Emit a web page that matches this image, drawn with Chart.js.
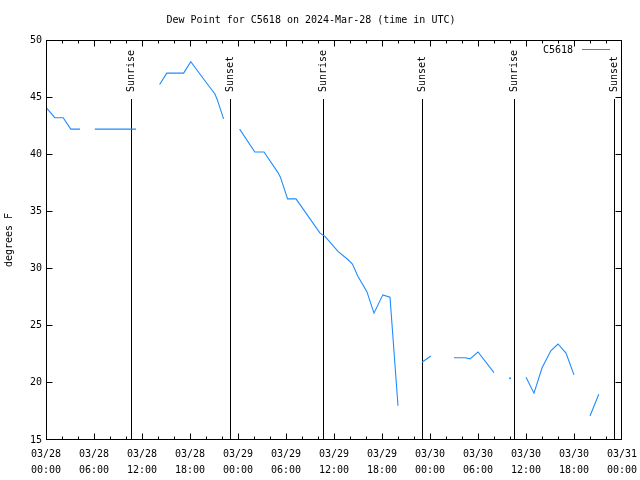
<!DOCTYPE html>
<html><head><meta charset="utf-8">
<script src="https://cdn.jsdelivr.net/npm/chart.js@4"></script>
<style>html,body{margin:0;padding:0;background:#fff}</style>
</head><body>
<canvas id="c" width="640" height="480"></canvas>
<script>
// ---- data (hours after 2024-03-28 00:00 UTC) ----
const hours = [0, 1.1, 2.15, 3.1, 4.25, 5, 6.1, 8, 10, 11.25, 12.5,
  14.2, 15.1, 17.2, 18.1, 20.0, 21.1, 21.4, 22.2, 23.5,
  24.2, 26.1, 27.25, 29.0, 29.3, 30.2, 31.25, 34.25, 34.9, 36.5, 37.8, 38.3, 39.0, 40.1, 41.0, 42.1, 43.0, 44.0, 45.5,
  47.0, 48.1, 49.5, 51.0, 52.4, 53.0, 54.0, 56.0, 57, 58.0, 59,
  60.0, 61.0, 62.0, 63.1, 64.0, 65.0, 66.0, 67, 68.0, 69.1];
const dewPoint = [44.1, 43.2, 43.2, 42.2, 42.2, null, 42.2, 42.2, 42.2, 42.2, null,
  46.1, 47.1, 47.1, 48.1, 46.3, 45.3, 44.8, 43.1, null,
  42.2, 40.2, 40.2, 38.4, 38.0, 36.1, 36.1, 33.1, 32.8, 31.5, 30.75, 30.4, 29.3, 28.0, 26.1, 27.7, 27.5, 18.0, null,
  21.8, 22.35, null, 22.2, 22.2, 22.1, 22.7, 20.9, null, 20.4, null,
  20.5, 19.1, 21.3, 22.8, 23.4, 22.6, 20.7, null, 17.1, 19.0];
const xTickLabels = [['03/28','00:00'],['03/28','06:00'],['03/28','12:00'],['03/28','18:00'],
  ['03/29','00:00'],['03/29','06:00'],['03/29','12:00'],['03/29','18:00'],
  ['03/30','00:00'],['03/30','06:00'],['03/30','12:00'],['03/30','18:00'],['03/31','00:00']];
const sunTimes = [10.7, 23.08, 34.67, 47.04, 58.55, 71.05];
const sunLabels = ['Sunrise','Sunset','Sunrise','Sunset','Sunrise','Sunset'];
const seriesName = 'C5618';
const titleText = 'Dew Point for C5618 on 2024-Mar-28 (time in UTC)';

const MONO = '"DejaVu Sans Mono", monospace';
const FONT = {family: MONO, size: 10, weight: 'normal'};
const LINE_COLOR = '#1e8cff';

const points = hours.map((h, i) => ({x: h, y: dewPoint[i]}));

const decor = {
  id: 'decor',
  beforeDatasetsDraw(chart) {
    const {ctx, chartArea: a, scales: {x}} = chart;
    ctx.save();
    ctx.strokeStyle = '#000'; ctx.lineWidth = 1;
    ctx.font = '10px ' + MONO; ctx.fillStyle = '#000';
    sunTimes.forEach((t, i) => {
      const px = Math.floor(x.getPixelForValue(t)) + 0.5;
      ctx.beginPath(); ctx.moveTo(px, a.top + 59); ctx.lineTo(px, a.bottom); ctx.stroke();
      ctx.save();
      ctx.translate(px, a.top + 52);
      ctx.rotate(-Math.PI / 2);
      ctx.textAlign = 'left'; ctx.textBaseline = 'middle';
      ctx.fillText(sunLabels[i], 0, 0);
      ctx.restore();
    });
    ctx.restore();
  },
  afterDatasetsDraw(chart) {
    const {ctx, chartArea: a, scales: {x, y}} = chart;
    ctx.save();
    ctx.strokeStyle = '#000'; ctx.lineWidth = 1;
    const L = Math.floor(a.left) + 0.5, R = Math.floor(a.right) - 0.5;
    const T = Math.floor(a.top) + 0.5, B = Math.floor(a.bottom) - 0.5;
    ctx.strokeRect(L, T, R - L, B - T);
    ctx.beginPath();
    for (let h = 0; h <= 72; h += 2) {
      const px = Math.min(R, Math.floor(x.getPixelForValue(h)) + 0.5);
      const len = (h % 6 === 0) ? 6 : 3;
      ctx.moveTo(px, B); ctx.lineTo(px, B - len);
      ctx.moveTo(px, T); ctx.lineTo(px, T + len);
    }
    for (let v = 15; v <= 50; v += 5) {
      const py = Math.min(B, Math.floor(y.getPixelForValue(v)) + 0.5);
      ctx.moveTo(L, py); ctx.lineTo(L + 6, py);
      ctx.moveTo(R, py); ctx.lineTo(R - 6, py);
    }
    ctx.stroke();
    // legend
    ctx.font = '10px ' + MONO; ctx.fillStyle = '#000';
    ctx.textAlign = 'right'; ctx.textBaseline = 'middle';
    ctx.fillText(seriesName, a.right - 49, a.top + 10);
    ctx.strokeStyle = LINE_COLOR;
    ctx.beginPath(); ctx.moveTo(a.right - 40, a.top + 9.5); ctx.lineTo(a.right - 12, a.top + 9.5); ctx.stroke();
    ctx.restore();
  }
};

new Chart(document.getElementById('c'), {
  type: 'line',
  data: {
    datasets: [{
      label: seriesName,
      data: points,
      borderColor: LINE_COLOR,
      backgroundColor: LINE_COLOR,
      borderWidth: 1.1,
      tension: 0,
      spanGaps: false,
      fill: false,
      pointRadius: (c) => {
        const d = c.dataset.data, i = c.dataIndex;
        const prev = d[i - 1], next = d[i + 1];
        return (d[i] && d[i].y != null && (!prev || prev.y == null) && (!next || next.y == null)) ? 1 : 0;
      },
      pointBorderWidth: 0
    }]
  },
  options: {
    responsive: false,
    animation: false,
    devicePixelRatio: 1,
    layout: {padding: {left: 0, right: 18, top: 0, bottom: 0}},
    plugins: {
      legend: {display: false},
      tooltip: {enabled: false},
      title: {display: true, text: titleText, color: '#000', font: FONT, padding: {top: 14, bottom: 14}}
    },
    scales: {
      x: {
        type: 'linear', min: 0, max: 72,
        afterBuildTicks: (s) => { s.ticks = xTickLabels.map((_, i) => ({value: i * 6})); },
        ticks: {autoSkip: false, maxRotation: 0, minRotation: 0, padding: 6, color: '#000',
          font: {family: MONO, size: 10, lineHeight: 1.6},
          callback: (v) => xTickLabels[Math.round(v / 6)]},
        grid: {display: false, drawTicks: false},
        border: {display: false},
        afterFit: (s) => { s.height = 40; s.paddingLeft = 0; s.paddingRight = 0; }
      },
      y: {
        min: 15, max: 50,
        ticks: {stepSize: 5, padding: 4, color: '#000', font: FONT},
        grid: {display: false, drawTicks: false},
        border: {display: false},
        title: {display: true, text: 'degrees F', color: '#000', font: FONT, padding: {top: 3, bottom: 0}},
        afterFit: (s) => { s.width = 46; s.paddingTop = 0; s.paddingBottom = 0; }
      }
    }
  },
  plugins: [decor]
});
</script>
</body></html>
